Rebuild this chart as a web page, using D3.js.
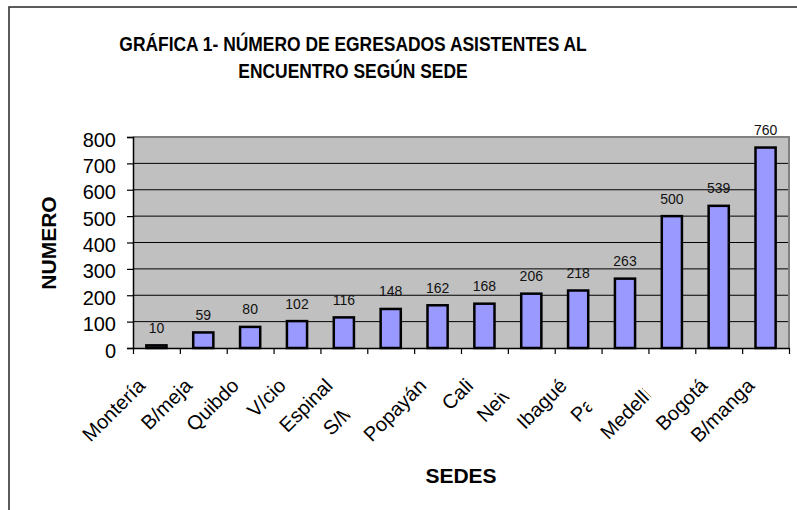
<!DOCTYPE html>
<html>
<head>
<meta charset="utf-8">
<script src="https://cdn.jsdelivr.net/npm/d3@7"></script>
<style>
  html, body { margin: 0; padding: 0; background: #ffffff; }
  svg { display: block; font-family: "Liberation Sans", Arial, sans-serif; }
</style>
</head>
<body>
<svg id="chart" width="797" height="510"></svg>
<script>
// ---- data ----
const categories = ["Montería", "B/meja", "Quibdo", "V/cio", "Espinal", "S/Marta", "Popayán",
                    "Cali", "Neiva", "Ibagué", "Pasto", "Medellín", "Bogotá", "B/manga"];
const values = [10, 59, 80, 102, 116, 148, 162, 168, 206, 218, 263, 500, 539, 760];
const yTicks = [0, 100, 200, 300, 400, 500, 600, 700, 800];
const titleLines = ["GRÁFICA 1- NÚMERO DE EGRESADOS ASISTENTES AL", "ENCUENTRO SEGÚN SEDE"];
const yTitle = "NUMERO";
const xTitle = "SEDES";

// ---- presentation config (not data) ----
// labels that the original chart truncates: visible width in px along the baseline
const labelVisibleWidth = { "S/Marta": 28, "Neiva": 35, "Pasto": 20, "Medellín": 61 };

const svg = d3.select("#chart");
const plot = { left: 133, right: 789, top: 137, bottom: 348 };

// outer chart border (runs off the right and bottom edges)
svg.append("rect")
  .attr("x", 9).attr("y", 7).attr("width", 820).attr("height", 540)
  .attr("fill", "#ffffff").attr("stroke", "#333333").attr("stroke-width", 1.6);

const x = d3.scaleBand().domain(categories).range([plot.left, plot.right]).padding(0);
const y = d3.scaleLinear().domain([0, 800]).range([plot.bottom, plot.top]);
const xb = d3.scaleLinear().domain([0, categories.length]).range([plot.left, plot.right]);

// plot background
svg.append("rect")
  .attr("x", plot.left).attr("y", plot.top)
  .attr("width", plot.right - plot.left).attr("height", plot.bottom - plot.top)
  .attr("fill", "#c0c0c0");

// gridlines
svg.append("g").selectAll("line")
  .data(yTicks.filter(d => d > 0 && d < 800))
  .join("line")
  .attr("x1", plot.left).attr("x2", plot.right)
  .attr("y1", d => y(d)).attr("y2", d => y(d))
  .attr("stroke", "#000000").attr("stroke-width", 1);

// plot frame top and right (gray)
svg.append("path")
  .attr("d", `M${plot.left},${plot.top}H${plot.right}V${plot.bottom}`)
  .attr("fill", "none").attr("stroke", "#808080").attr("stroke-width", 2);

// bars
const barW = x.bandwidth() * 0.43;
svg.append("g").selectAll("rect")
  .data(values)
  .join("rect")
  .attr("x", (d, i) => x(categories[i]) + x.bandwidth() / 2 - barW / 2)
  .attr("y", d => y(d))
  .attr("width", barW)
  .attr("height", d => y(0) - y(d))
  .attr("fill", "#9999ff")
  .attr("stroke", "#000000")
  .attr("stroke-width", 2.5);

// value labels
svg.append("g").selectAll("text")
  .data(values)
  .join("text")
  .attr("x", (d, i) => x(categories[i]) + x.bandwidth() / 2)
  .attr("y", d => y(d) - 12.5)
  .attr("text-anchor", "middle")
  .attr("font-size", 14)
  .attr("fill", "#111111")
  .text(d => d);

// y axis
const yAxis = svg.append("g")
  .attr("transform", `translate(${plot.left},0)`)
  .call(d3.axisLeft(y).tickValues(yTicks).tickSize(6).tickPadding(11).tickFormat(d3.format("d")));
yAxis.select(".domain").attr("stroke", "#000").attr("stroke-width", 1.5);
yAxis.selectAll(".tick line").attr("stroke", "#000").attr("stroke-width", 1.2);
yAxis.selectAll(".tick text")
  .attr("font-size", 20).attr("font-family", "Liberation Sans, Arial, sans-serif")
  .attr("fill", "#000").attr("dy", 9);

// x axis (ticks at category boundaries)
const xAxis = svg.append("g")
  .attr("transform", `translate(0,${plot.bottom})`)
  .call(d3.axisBottom(xb).tickValues(d3.range(0, categories.length + 1)).tickSize(6).tickSizeOuter(0).tickFormat(""));
xAxis.select(".domain").attr("stroke", "#000").attr("stroke-width", 1.5);
xAxis.selectAll(".tick line").attr("stroke", "#000").attr("stroke-width", 1.2);

// x category labels, rotated -45°
const defs = svg.append("defs");
const labels = svg.append("g").selectAll("text")
  .data(categories)
  .join("text")
  .attr("transform", d => `translate(${x(d) + x.bandwidth() / 2 - 10},387) rotate(-45)`)
  .attr("text-anchor", "end")
  .attr("font-size", 20)
  .attr("fill", "#000")
  .text(d => d);

labels.each(function(d, i) {
  if (labelVisibleWidth[d] !== undefined) {
    const full = this.getComputedTextLength();
    const id = "clip" + i;
    defs.append("clipPath").attr("id", id).attr("clipPathUnits", "userSpaceOnUse")
      .append("rect")
      .attr("x", -full - 20).attr("y", -40)
      .attr("width", 20 + labelVisibleWidth[d]).attr("height", 80);
    d3.select(this).attr("clip-path", `url(#${id})`);
  }
});

// chart title (condensed bold)
const title = svg.append("g").attr("transform", "translate(353,0)");
title.selectAll("text")
  .data(titleLines)
  .join("text")
  .attr("transform", (d, i) => `translate(0,${51 + i * 27}) scale(0.83,1)`)
  .attr("text-anchor", "middle")
  .attr("font-size", 21)
  .attr("font-weight", "bold")
  .attr("fill", "#000")
  .text(d => d);

// axis titles
svg.append("text")
  .attr("transform", "translate(55.5,243) rotate(-90)")
  .attr("text-anchor", "middle")
  .attr("font-size", 21).attr("font-weight", "bold")
  .text(yTitle);

svg.append("text")
  .attr("x", 461).attr("y", 483)
  .attr("text-anchor", "middle")
  .attr("font-size", 21).attr("font-weight", "bold")
  .text(xTitle);
</script>
</body>
</html>
